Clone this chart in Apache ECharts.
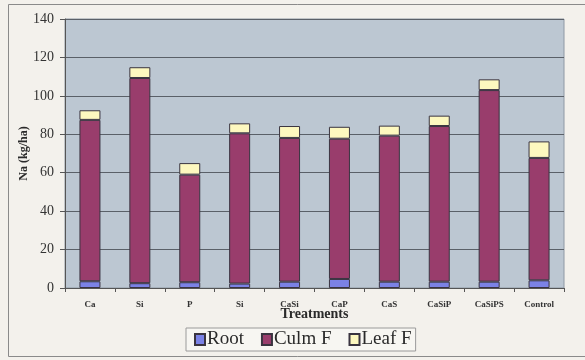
<!DOCTYPE html>
<html>
<head>
<meta charset="utf-8">
<script src="https://cdn.jsdelivr.net/npm/echarts@6/dist/echarts.min.js"></script>
<style>
  html, body { margin: 0; padding: 0; background: #f3f1ec; }
  #chart { width: 585px; height: 360px; }
</style>
</head>
<body>
<div id="chart"></div>
<script>
// Sodium uptake (kg/ha) by plant part for each treatment
const treatments = ['Ca', 'Si', 'P', 'Si', 'CaSi', 'CaP', 'CaS', 'CaSiP', 'CaSiPS', 'Control'];
const rootValues = [3.5, 2.5, 3.0, 2.3, 3.3, 4.7, 3.3, 3.3, 3.3, 4.0];
const culmValues = [84.0, 106.8, 56.0, 78.2, 74.8, 73.0, 76.0, 81.0, 99.7, 63.7];
const leafValues = [5.0, 5.6, 6.0, 5.2, 6.2, 6.2, 5.2, 5.4, 5.6, 8.6];
const yTicks = [0, 20, 40, 60, 80, 100, 120, 140];

const serif = '"Liberation Serif", "DejaVu Serif", serif';
const chart = echarts.init(document.getElementById('chart'));

const barStyle = (color) => ({
  color: color,
  borderColor: '#3a3440',
  borderWidth: 1
});

chart.setOption({
  backgroundColor: '#f3f1ec',
  animation: false,
  graphic: [{
    type: 'rect',
    shape: { x: 8.5, y: 4.5, width: 580, height: 352 },
    style: { fill: 'none', stroke: '#8a8a8a', lineWidth: 1 },
    silent: true,
    z: -1
  }],
  grid: {
    left: 65, right: 21, top: 19, bottom: 72,
    show: true,
    backgroundColor: '#bcc7d2',
    borderColor: '#8e98a4',
    borderWidth: 1
  },
  xAxis: {
    type: 'category',
    data: treatments,
    name: 'Treatments',
    nameLocation: 'middle',
    nameGap: 19,
    nameMoveOverlap: false,
    nameTextStyle: { fontFamily: serif, fontSize: 14, fontWeight: 'bold', color: '#2a2a2a' },
    axisLine: { lineStyle: { color: '#555', width: 1 } },
    axisTick: { show: true, alignWithLabel: false, length: 4, lineStyle: { color: '#555' } },
    axisLabel: { fontFamily: serif, fontSize: 9, fontWeight: 'bold', color: '#333', margin: 12 }
  },
  yAxis: {
    type: 'value',
    min: yTicks[0],
    max: yTicks[yTicks.length - 1],
    interval: 20,
    name: 'Na (kg/ha)',
    nameLocation: 'middle',
    nameGap: 35,
    nameMoveOverlap: false,
    nameTextStyle: { fontFamily: serif, fontSize: 12, fontWeight: 'bold', color: '#2a2a2a' },
    axisLine: { show: true, lineStyle: { color: '#555' } },
    axisTick: { show: true, length: 5, lineStyle: { color: '#555' } },
    axisLabel: { fontFamily: serif, fontSize: 14, color: '#333', margin: 11 },
    splitLine: { lineStyle: { color: '#5a6068', width: 1 } }
  },
  legend: {
    data: ['Root', 'Culm F', 'Leaf F'],
    icon: 'rect',
    left: 186,
    top: 328,
    itemWidth: 10,
    itemHeight: 11,
    itemGap: 17,
    padding: [2, 4, 2, 8],
    borderColor: '#9a9a9a',
    borderWidth: 1,
    backgroundColor: '#f7f6f2',
    textStyle: { fontFamily: serif, fontSize: 19, color: '#2a2a2a', padding: [0, 0, 0, -3] }
  },
  series: [
    {
      name: 'Root', type: 'bar', stack: 'na', barWidth: 21,
      data: rootValues, itemStyle: barStyle('#7b82e6')
    },
    {
      name: 'Culm F', type: 'bar', stack: 'na', barWidth: 21,
      data: culmValues, itemStyle: barStyle('#993d6c')
    },
    {
      name: 'Leaf F', type: 'bar', stack: 'na', barWidth: 21,
      data: leafValues, itemStyle: barStyle('#fdf8bf')
    }
  ]
});
</script>
</body>
</html>
